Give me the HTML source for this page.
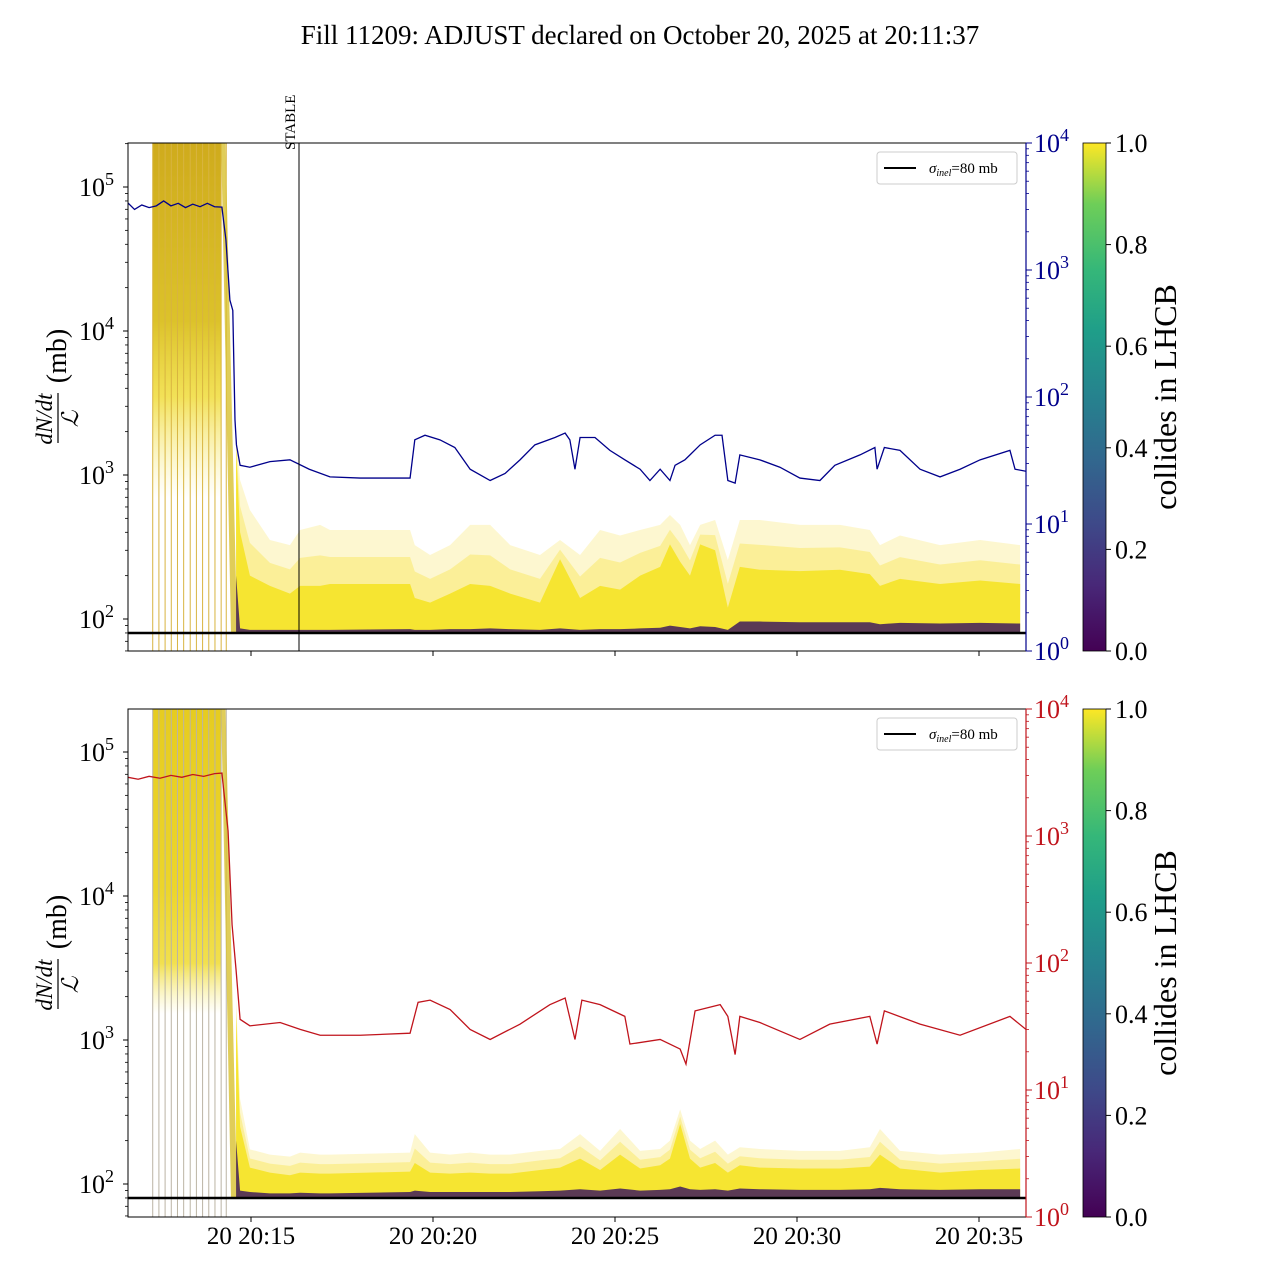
<!DOCTYPE html>
<html><head><meta charset="utf-8">
<style>
body{margin:0;background:#fff}
svg{display:block;font-family:"Liberation Serif",serif}
</style></head>
<body>
<svg id="chart" width="1280" height="1280" viewBox="0 0 1280 1280" xmlns="http://www.w3.org/2000/svg">
<defs>
<linearGradient id="viridis" x1="0" y1="1" x2="0" y2="0">
<stop offset="0" stop-color="#440154"/><stop offset="0.13" stop-color="#482878"/><stop offset="0.25" stop-color="#3e4989"/><stop offset="0.38" stop-color="#31688e"/><stop offset="0.5" stop-color="#26828e"/><stop offset="0.63" stop-color="#1f9e89"/><stop offset="0.75" stop-color="#35b779"/><stop offset="0.88" stop-color="#6ece58"/><stop offset="1" stop-color="#fde725"/>
</linearGradient>
<linearGradient id="preTop" x1="0" y1="143" x2="0" y2="651" gradientUnits="userSpaceOnUse">
<stop offset="0" stop-color="#cfab1c"/><stop offset="0.35" stop-color="#dcc22a"/><stop offset="0.5" stop-color="#f0dc3a" stop-opacity="0.85"/><stop offset="0.7" stop-color="#f8ec80" stop-opacity="0.0"/><stop offset="1" stop-color="#fff" stop-opacity="0"/>
</linearGradient>
<linearGradient id="preBot" x1="0" y1="709" x2="0" y2="1217" gradientUnits="userSpaceOnUse">
<stop offset="0" stop-color="#e6cc20"/><stop offset="0.35" stop-color="#ecd52a"/><stop offset="0.5" stop-color="#f0dc3a" stop-opacity="0.9"/><stop offset="0.6" stop-color="#f8ec80" stop-opacity="0.0"/><stop offset="1" stop-color="#fff" stop-opacity="0"/>
</linearGradient>
<clipPath id="clipTop"><rect x="128" y="143" width="898" height="508"/></clipPath>
<clipPath id="clipBot"><rect x="128" y="709" width="898" height="508"/></clipPath>
</defs>
<text x="640" y="44" font-size="27" text-anchor="middle">Fill 11209: ADJUST declared on October 20, 2025 at 20:11:37</text>
<g id="layer"></g>
</svg>
<script>
// ---- data ----
const lumiT = [11.62,11.8,12.0,12.2,12.4,12.6,12.8,13.0,13.2,13.4,13.6,13.8,14.0,14.2,14.31,14.42,14.5,14.56,14.6,14.7,14.97,15.52,16.07,16.6,17.17,18.0,19.37,19.5,19.78,20.19,20.6,21.02,21.57,21.98,22.39,22.8,23.35,23.63,23.76,23.9,24.04,24.45,24.86,25.27,25.69,25.96,26.24,26.51,26.65,26.92,27.06,27.34,27.75,27.94,28.1,28.3,28.43,28.98,29.53,30.08,30.63,31.04,31.73,32.14,32.2,32.4,32.83,33.38,33.93,34.48,35.03,35.85,35.99,36.29];
const lumiTop = [3370,3000,3250,3100,3200,3500,3200,3350,3100,3300,3150,3350,3150,3130,1740,580,480,66,42,29,28,31,32,27,23.5,23,23,46,50,46,40,27,22,25,32,42,48,52,46,27,48,48,38,32,27,22,27,22,29,32,35,42,50,50,22,21,35,32,28,23,22,29,35,40,27,40,38,27,23.5,27,32,38,27,26];
const lumiT2 = [11.62,11.9,12.2,12.5,12.8,13.1,13.4,13.7,14.0,14.2,14.37,14.48,14.59,14.7,14.97,15.8,16.35,16.9,18.0,19.37,19.59,19.92,20.47,21.02,21.57,22.39,23.21,23.63,23.9,24.09,24.59,25.27,25.41,26.24,26.79,26.95,27.2,27.89,28.1,28.3,28.43,28.98,30.08,30.9,32.0,32.2,32.4,33.38,34.48,35.85,36.29];
const lumiBot = [2900,2800,2950,2850,3000,2900,3050,2950,3100,3130,1100,200,88,36,32,34,30,27,27,28,49,51,43,30,25,33,47,53,25,51,47,38,23,25,21,16,42,47,38,19,38,34,25,33,38,23,42,33,27,38,30];
const bandT = [14.59,14.7,14.97,15.52,16.07,16.35,16.9,17.17,19.37,19.5,19.92,20.47,21.02,21.57,22.12,22.94,23.49,24.04,24.59,25.14,25.69,26.24,26.51,26.79,27.06,27.34,27.75,28.1,28.43,28.98,30.08,31.18,32.0,32.28,32.83,33.93,35.03,36.13];
const bandUpperTop = [2000,922,571,354,326,415,450,415,415,326,278,326,450,450,326,278,354,278,415,380,415,450,527,450,326,450,487,257,487,487,450,450,415,326,380,326,354,326];
const bandCoreTop = [1500,400,200,170,150,170,170,175,175,140,130,150,175,170,150,130,260,140,170,160,200,230,330,250,200,330,300,120,230,220,215,220,205,170,190,175,185,175];
const bandPurpleTop = [200,86,84,84,84,84,84,84,85,84,84,85,85,86,85,84,86,84,85,85,86,87,90,88,86,89,88,84,96,96,95,95,95,92,94,93,94,93];
const bandUpperBot = [2000,390,174,160,155,165,160,160,165,222,165,160,165,160,160,170,175,222,170,241,170,175,200,330,200,175,200,160,180,175,170,170,180,241,170,160,165,175];
const bandCoreBot = [1500,250,130,120,115,120,118,118,122,140,120,118,120,118,118,125,130,150,125,160,128,135,150,261,150,130,140,120,135,130,128,128,132,160,128,120,125,128];
const bandPurpleBot = [200,90,88,86,86,87,86,86,88,90,88,88,88,88,88,89,90,92,90,93,90,91,92,96,92,91,92,90,93,92,91,91,92,94,92,91,92,92];
const xTickMinutes = [15,20,25,30,35];
const xTickLabels = ["20 20:15","20 20:20","20 20:25","20 20:30","20 20:35"];
const leftExps = [2,3,4,5];
const rightExps = [0,1,2,3,4];
const cbTicks = [0.0,0.2,0.4,0.6,0.8,1.0];
const preLines = [12.3,12.47,12.64,12.81,12.98,13.15,13.33,13.5,13.67,13.84,14.01,14.18,14.32];
const sigmaInel = 80;

// ---- axes ----
const NS="http://www.w3.org/2000/svg";
const layer=document.getElementById('layer');
const X=t=>251+(t-15)*36.4;
const YL=(v,p)=>619+p*565-(Math.log10(v)-2)*144;
const YR=(v,p)=>651+p*566-Math.log10(v)*127;
function mk(tag,attrs,parent){const e=document.createElementNS(NS,tag);for(const k in attrs)e.setAttribute(k,attrs[k]);(parent||layer).appendChild(e);return e;}

[0,1].forEach(p=>{
  const top=143+p*566, bot=651+p*566;
  const g=mk('g',{'clip-path':p?'url(#clipBot)':'url(#clipTop)'});
  
  
  const pre=mk('rect',{x:X(12.3),y:top,width:X(14.18)-X(12.3),height:508,fill:p?'url(#preBot)':'url(#preTop)'},g);
  
  
  preLines.forEach(t=>{
    const l=mk('line',{x1:X(t),x2:X(t),y1:top,y2:bot,stroke:p?'#bbb4a4':'#d8b440','stroke-width':1},g);
    
    
  });
  const w=mk('polygon',{points:`${X(14.18)},${top} ${X(14.3)},${top} ${X(14.62)},${YL(80,p)} ${X(14.45)},${YL(80,p)}`,fill:'#d8c030',opacity:0.8},g);
  
  
  const up=p?bandUpperBot:bandUpperTop, core=p?bandCoreBot:bandCoreTop, pur=p?bandPurpleBot:bandPurpleTop;
  function band(arr,fill,op,name){
    let pts=bandT.map((t,i)=>X(t)+','+YL(arr[i],p));
    pts.push(X(bandT[bandT.length-1])+','+YL(sigmaInel,p));
    pts.push(X(bandT[0])+','+YL(sigmaInel,p));
    const e=mk('polygon',{points:pts.join(' '),fill:fill,opacity:op},g);
    
    
  }
  band(up,'#fcf2b0',0.6,'bunch-band-faint');
  band(up.map((v,i)=>Math.sqrt(v*core[i])),'#f9ea6a',0.55,'bunch-band-mid');
  band(core,'#f5e326',0.9,'bunch-band-core');
  band(pur,'#3f1c5c',0.85,'noncolliding-band');
  const s=mk('line',{x1:128,x2:1026,y1:YL(sigmaInel,p),y2:YL(sigmaInel,p),stroke:'#000','stroke-width':2.5},g);
  
  
  const T=p?lumiT2:lumiT, V=p?lumiBot:lumiTop;
  const pl=mk('polyline',{points:T.map((t,i)=>X(t)+','+YR(V[i],p)).join(' '),fill:'none',stroke:p?'#c0141c':'#00008b','stroke-width':1.3},g);
  
  
  if(!p){
    const st=mk('line',{x1:299,x2:299,y1:143,y2:651,stroke:'#000','stroke-width':1},g);
    
    
  }
  const fr=mk('rect',{x:128,y:top,width:898,height:508,fill:'none',stroke:'#000','stroke-width':1});
  
  
  const rc=p?'#c0141c':'#00008b';
  const rs=mk('line',{x1:1026,x2:1026,y1:top,y2:bot,stroke:rc,'stroke-width':1.2});
  
  
  xTickMinutes.forEach((m,i)=>{
    mk('line',{x1:X(m),x2:X(m),y1:bot,y2:bot+5,stroke:'#000'});
    if(p){
      const tx=mk('text',{x:X(m),y:1244,'font-size':25,'text-anchor':'middle'});
      tx.textContent=xTickLabels[i];
      
      
    }
  });
  leftExps.forEach(e=>{
    const y=YL(Math.pow(10,e),p);
    mk('line',{x1:123,x2:128,y1:y,y2:y,stroke:'#000'});
    const tx=mk('text',{x:114,y:y+9,'font-size':26,'text-anchor':'end'});
    tx.innerHTML='10<tspan dy="-11" font-size="18">'+e+'</tspan>';
    
    
  });
  for(let e=1;e<=5;e++)for(let k=2;k<=9;k++){const y=YL(k*Math.pow(10,e),p);if(y>top&&y<bot)mk('line',{x1:125,x2:128,y1:y,y2:y,stroke:'#000','stroke-width':0.8});}
  rightExps.forEach(e=>{
    const y=YR(Math.pow(10,e),p);
    mk('line',{x1:1026,x2:1032,y1:y,y2:y,stroke:rc});
    const tx=mk('text',{x:1034,y:y+9,'font-size':26,fill:rc});
    tx.innerHTML='10<tspan dy="-11" font-size="18">'+e+'</tspan>';
    
    
  });
  for(let e=0;e<4;e++)for(let k=2;k<=9;k++){const y=YR(k*Math.pow(10,e),p);mk('line',{x1:1026,x2:1029,y1:y,y2:y,stroke:rc,'stroke-width':0.8});}
  const cy=397+p*566;
  const yl=mk('g',{transform:`translate(62,${cy}) rotate(-90)`});
  
  
  mk('text',{x:-22,y:-10,'font-size':23,'font-style':'italic','text-anchor':'middle'},yl).textContent='dN/dt';
  mk('line',{x1:-46,x2:4,y1:-4,y2:-4,stroke:'#000','stroke-width':1.2},yl);
  mk('text',{x:-22,y:16,'font-size':23,'font-style':'italic','text-anchor':'middle'},yl).textContent='ℒ';
  mk('text',{x:41,y:4,'font-size':28,'text-anchor':'middle'},yl).textContent='(mb)';
  const lg=mk('g',{});
  
  
  mk('rect',{x:877,y:top+9,width:140,height:32,rx:3,fill:'#fff',stroke:'#ccc'},lg);
  mk('line',{x1:884,x2:916,y1:top+25,y2:top+25,stroke:'#000','stroke-width':2},lg);
  const lt=mk('text',{x:929,y:top+30,'font-size':15},lg);
  lt.innerHTML='<tspan font-style="italic">σ</tspan><tspan font-style="italic" font-size="10" dy="3">inel</tspan><tspan dy="-3">=80 mb</tspan>';
  const cb=mk('rect',{x:1083,y:top,width:23,height:508,fill:'url(#viridis)',stroke:'#000','stroke-width':0.8});
  
  
  cbTicks.forEach(v=>{
    const y=bot-v*508;
    mk('line',{x1:1106,x2:1111,y1:y,y2:y,stroke:'#000'});
    const tx=mk('text',{x:1115,y:y+9,'font-size':26});
    tx.textContent=v.toFixed(1);
    
    
  });
  const cl=mk('text',{transform:`translate(1176,${cy}) rotate(-90)`,'font-size':32,'text-anchor':'middle'});
  cl.textContent='collides in LHCB';
  
  
});
const stx=mk('text',{transform:'translate(295,150) rotate(-90)','font-size':15});
stx.textContent='STABLE';


</script>
</body></html>
